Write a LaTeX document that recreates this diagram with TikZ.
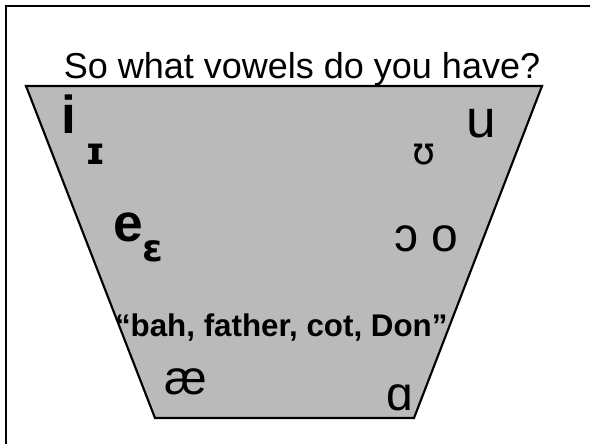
\documentclass[tikz,border=0pt]{standalone}
\usepackage{fontspec}
\setmainfont{Liberation Sans}
\newfontfamily\ipa{DejaVu Sans}
\definecolor{trapgray}{RGB}{186,186,186}
\tikzset{
  lbl/.style={inner sep=0pt, outer sep=0pt, anchor=base west},
  vow/.style={lbl, font=\fontsize{36}{42}\selectfont},
  vowbig/.style={lbl, font=\fontsize{40}{46}\selectfont},
  vowb/.style={lbl, font=\fontsize{40}{46}\selectfont\bfseries},
  subb/.style={lbl, font=\fontsize{28}{32}\selectfont\bfseries\ipa},
  subr/.style={lbl, font=\fontsize{28}{32}\selectfont\ipa},
}
\begin{document}
\begin{tikzpicture}[x=0.75pt,y=-0.75pt]
\useasboundingbox (0,0) rectangle (590,444);
\fill[white] (0,0) rectangle (590,444);
\draw[line width=1.9pt] (6,444) -- (6,6) -- (590,6);
\coordinate (tl) at (26,86);
\coordinate (tr) at (542,86);
\coordinate (br) at (414,418);
\coordinate (bl) at (155,418);
\draw[fill=trapgray, line width=1.6pt, line join=miter] (tl) -- (tr) -- (br) -- (bl) -- cycle;
\node[inner sep=0pt, anchor=base, font=\fontsize{27}{31}\selectfont] (title) at (302,78) {So what vowels do you have?};
\node[vowb] (i) at (61,133) {i};
\node[subb] (I) at (85,164) {ɪ};
\node[vowb] (e) at (113,241) {e};
\node[subb] (E) at (142,261) {ɛ};
\node[vowbig] (u) at (466,137) {u};
\node[subr] (U) at (412,164) {ʊ};
\node[vow] (oo) at (394,251) {ɔ o};
\node[lbl, font=\fontsize{23.5}{27}\selectfont\bfseries] (bah) at (115,336) {“bah, father, cot, Don”};
\node[vow] (ae) at (164,394) {æ};
\node[vow] (a) at (386,410) {ɑ};
\end{tikzpicture}
\end{document}
